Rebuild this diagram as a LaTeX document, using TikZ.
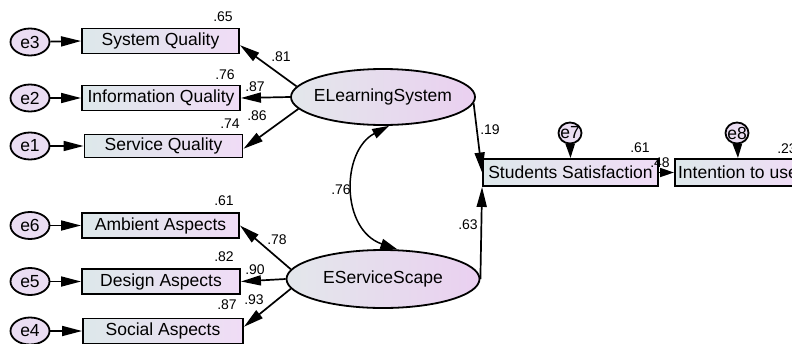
\documentclass[tikz,border=0pt]{standalone}
\usepackage{fontspec}
\setmainfont{Liberation Sans}
\usetikzlibrary{arrows.meta,shapes.geometric}
\definecolor{boxL}{HTML}{DDE8EA}
\definecolor{boxR}{HTML}{F0DCF6}
\definecolor{ellL}{HTML}{E3E7EB}
\definecolor{ellR}{HTML}{EAD0F0}
\definecolor{errF}{HTML}{EADDF2}
\begin{document}
\begin{tikzpicture}[x=1pt,y=-1pt,
  bigfont/.style={font=\fontsize{17.5}{20}\selectfont},
  obs/.style={draw, line width=1.9pt, left color=boxL, right color=boxR, minimum height=25pt, inner sep=0pt, bigfont},
  lat/.style={ellipse, draw, line width=1.8pt, left color=ellL, right color=ellR, inner sep=0pt},
  err/.style={ellipse, draw, line width=1.8pt, fill=errF, minimum width=39pt, minimum height=27pt, inner sep=0pt},
  arr/.style={line width=1.7pt, -{Triangle[length=20pt,width=10pt]}},
  sarr/.style={line width=1.7pt, -{Triangle[length=14pt,width=9pt]}},
  biarr/.style={line width=1.5pt, {Triangle[length=17pt,width=10pt]}-{Triangle[length=17pt,width=10pt]}},
  lbl/.style={font=\fontsize{14}{16}\selectfont, inner sep=0pt}]
\clip (0,0) rectangle (792,343);
\useasboundingbox (0,0) rectangle (792,343);
% observed
\node[obs, minimum width=157pt] (SQ) at (160.5,41) {System Quality};
\node[obs, minimum width=158pt] (IQ) at (161,98) {Information Quality};
\node[obs, minimum width=158pt, minimum height=23pt] (SvQ) at (163.5,146) {Service Quality};
\node[obs, minimum width=157pt] (AA) at (160.5,225.5) {Ambient Aspects};
\node[obs, minimum width=158pt] (DA) at (161,281.5) {Design Aspects};
\node[obs, minimum width=160pt] (SoA) at (163,331) {Social Aspects};
\node[obs, minimum width=175pt, minimum height=27pt] (SS) at (570.5,172.5) {Students Satisfaction};
\node[obs, minimum width=126pt, minimum height=27pt, anchor=west] (IU) at (674,172.5) {Intention to use};
% latent
\node[lat, minimum width=184pt, minimum height=56pt, label={[bigfont]center:ELearningSystem}] (ELS) at (383,97) {};
\node[lat, minimum width=193pt, minimum height=58pt, label={[bigfont]center:EServiceScape}] (ESS) at (383,279) {};
% errors
\node[err, label={[bigfont]center:e3}] (e3) at (30,42) {};
\node[err, label={[bigfont]center:e2}] (e2) at (30,98) {};
\node[err, label={[bigfont]center:e1}] (e1) at (30,146) {};
\node[err, label={[bigfont]center:e6}] (e6) at (30,225.5) {};
\node[err, label={[bigfont]center:e5}] (e5) at (30,281.5) {};
\node[err, label={[bigfont]center:e4}] (e4) at (30,331) {};
\node[err, minimum width=23pt, minimum height=21pt, label={[bigfont]center:e7}] (e7) at (570,133) {};
\node[err, minimum width=23pt, minimum height=21pt, label={[bigfont]center:e8}] (e8) at (737,133) {};
% error arrows
\draw[arr] (e3) -- (SQ.west);
\draw[arr] (e2) -- (IQ.west);
\draw[arr] (e1) -- (SvQ.west);
\draw[arr] (e6) -- (AA.west);
\draw[arr] (e5) -- (DA.west);
\draw[arr] (e4) -- (SoA.west);
\draw[sarr] (e7) -- (SS.north);
\draw[sarr] (e8) -- (IU.north);
% loadings
\draw[arr] (ELS.173) -- (SQ.-3);
\draw[arr] (ELS.west) -- (IQ.east);
\draw[arr] (ELS.188) -- (SvQ.-2);
\draw[arr] (ESS.174) -- (AA.east);
\draw[arr] (ESS.west) -- (DA.east);
\draw[arr] (ESS.186) -- (SoA.3);
% structural
\draw[arr] (ELS.-4) -- (SS.west);
\draw[arr] (ESS.east) -- (SS.south west);
\draw[sarr] (SS.east) -- (IU.west);
\draw[biarr] (ELS.282) .. controls +(-48,25) and +(-57,-20) .. (ESS.64);
% labels
\node[lbl] (r1) at (223,17) {.65};
\node[lbl] (r2) at (225,75) {.76};
\node[lbl] (r3) at (230,124) {.74};
\node[lbl] (w1) at (281,57) {.81};
\node[lbl] (w2) at (255,87) {.87};
\node[lbl] (w3) at (257,116) {.86};
\node[lbl] (r4) at (224,201) {.61};
\node[lbl] (r5) at (224,257) {.82};
\node[lbl] (r6) at (227,305) {.87};
\node[lbl] (w4) at (277,240) {.78};
\node[lbl] (w5) at (255,270) {.90};
\node[lbl] (w6) at (254,300) {.93};
\node[lbl] (c1) at (341,190) {.76};
\node[lbl] (p1) at (490,130) {.19};
\node[lbl] (p2) at (468,225) {.63};
\node[lbl] (r7) at (640,148) {.61};
\node[lbl] (p3) at (660,163) {.48};
\node[lbl] (r8) at (787,149) {.23};
\end{tikzpicture}
\end{document}
